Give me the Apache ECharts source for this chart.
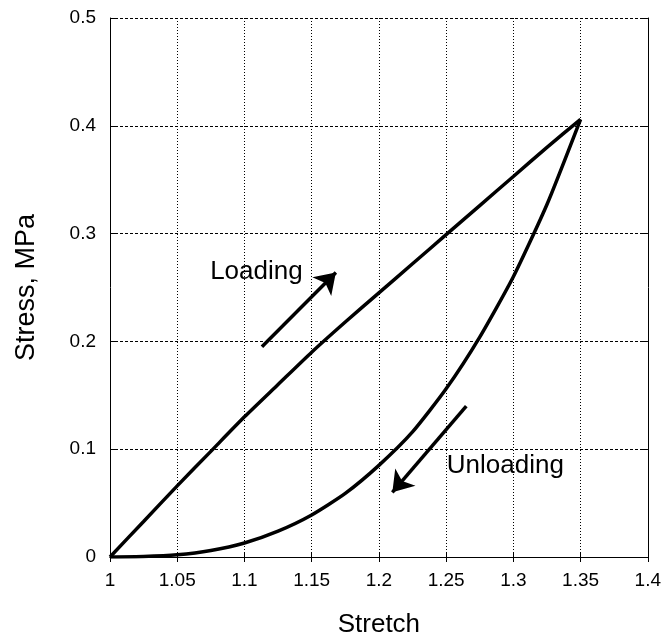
<!DOCTYPE html>
<html>
<head>
<meta charset="utf-8">
<script src="https://cdn.jsdelivr.net/npm/echarts@6/dist/echarts.min.js"></script>
<style>
  html, body { margin: 0; padding: 0; background: #fff; }
  #chart { width: 664px; height: 643px; }
</style>
</head>
<body>
<div id="chart"></div>
<script>
// stretch values along the curves
var stretch = [1, 1.025, 1.05, 1.075, 1.1, 1.125, 1.15, 1.175, 1.2, 1.225, 1.25, 1.275, 1.3, 1.325, 1.35];
// stress (MPa)
var loading   = [0, 0.033, 0.066, 0.098, 0.130, 0.160, 0.190, 0.218, 0.245, 0.272, 0.299, 0.326, 0.353, 0.380, 0.406];
var unloading = [0, 0.0004, 0.002, 0.006, 0.013, 0.024, 0.039, 0.059, 0.085, 0.116, 0.156, 0.204, 0.260, 0.327, 0.406];

var xTicks = [1, 1.05, 1.1, 1.15, 1.2, 1.25, 1.3, 1.35, 1.4];
var yTicks = [0, 0.1, 0.2, 0.3, 0.4, 0.5];

// annotation arrows [tail, head] and label anchors
var loadingArrow = [[1.113, 0.195], [1.168, 0.264]];
var unloadingArrow = [[1.265, 0.140], [1.210, 0.060]];
var notes = [
  { text: 'Loading', at: [1.0745, 0.265] },
  { text: 'Unloading', at: [1.2505, 0.085] }
];

function pairs(xs, ys) {
  var out = [];
  for (var i = 0; i < xs.length; i++) out.push([xs[i], ys[i]]);
  return out;
}

var font = 'Liberation Sans, Arial, sans-serif';
var chart = echarts.init(document.getElementById('chart'));

var option = {
  animation: false,
  grid: { left: 110, right: 15, top: 18, bottom: 85, containLabel: false },
  xAxis: [{
    type: 'value', min: xTicks[0], max: xTicks[xTicks.length - 1], interval: 0.05,
    name: 'Stretch', nameLocation: 'middle', nameGap: 55,
    nameTextStyle: { fontFamily: font, fontSize: 26, color: '#000' },
    axisLine: { lineStyle: { color: '#000', width: 1 } },
    axisTick: { inside: true, length: 5, lineStyle: { color: '#000' } },
    axisLabel: {
      fontFamily: font, fontSize: 19, color: '#000', margin: 14,
      formatter: function (v) { return String(+v.toFixed(2)); }
    },
    splitLine: { show: true, lineStyle: { color: '#000', type: [1, 2], width: 1 } }
  }, {
    type: 'value', position: 'top', min: xTicks[0], max: xTicks[xTicks.length - 1], interval: 0.05,
    axisLine: { show: true, lineStyle: { color: '#000', width: 1 } },
    axisTick: { inside: true, length: 5, lineStyle: { color: '#000' } },
    axisLabel: { show: false }, splitLine: { show: false }
  }],
  yAxis: [{
    type: 'value', min: yTicks[0], max: yTicks[yTicks.length - 1], interval: 0.1,
    name: 'Stress, MPa', nameLocation: 'middle', nameGap: 70,
    nameTextStyle: { fontFamily: font, fontSize: 27, color: '#000' },
    axisLine: { show: true, lineStyle: { color: '#000', width: 1 } },
    axisTick: { show: true, inside: true, length: 5, lineStyle: { color: '#000' } },
    axisLabel: {
      fontFamily: font, fontSize: 19, color: '#000', margin: 14,
      formatter: function (v) { return String(+v.toFixed(1)); }
    },
    splitLine: { show: true, lineStyle: { color: '#000', type: [3, 2], width: 1 } }
  }, {
    type: 'value', position: 'right', min: yTicks[0], max: yTicks[yTicks.length - 1], interval: 0.1,
    axisLine: { show: true, lineStyle: { color: '#000', width: 1 } },
    axisTick: { show: true, inside: true, length: 5, lineStyle: { color: '#000' } },
    axisLabel: { show: false }, splitLine: { show: false }
  }],
  series: [
    {
      name: 'Loading', type: 'line', data: pairs(stretch, loading),
      showSymbol: false, smooth: 0.2,
      lineStyle: { color: '#000', width: 3.5 }
    },
    {
      name: 'Unloading', type: 'line', data: pairs(stretch, unloading),
      showSymbol: false, smooth: 0.2,
      lineStyle: { color: '#000', width: 3.5 }
    },
    {
      type: 'lines', coordinateSystem: 'cartesian2d',
      symbol: ['none', 'arrow'], symbolSize: [0, 20],
      lineStyle: { color: '#000', width: 3.5, opacity: 1 },
      data: [{ coords: loadingArrow }, { coords: unloadingArrow }]
    }
  ]
};

chart.setOption(option);

// place the annotation texts at their data anchors
var texts = notes.map(function (n) {
  var p = chart.convertToPixel({ gridIndex: 0 }, n.at);
  return {
    type: 'text', x: p[0], y: p[1],
    style: {
      text: n.text, fill: '#000', font: '26px ' + font,
      textAlign: 'left', textVerticalAlign: 'middle'
    }
  };
});
chart.setOption({ graphic: texts });
</script>
</body>
</html>
